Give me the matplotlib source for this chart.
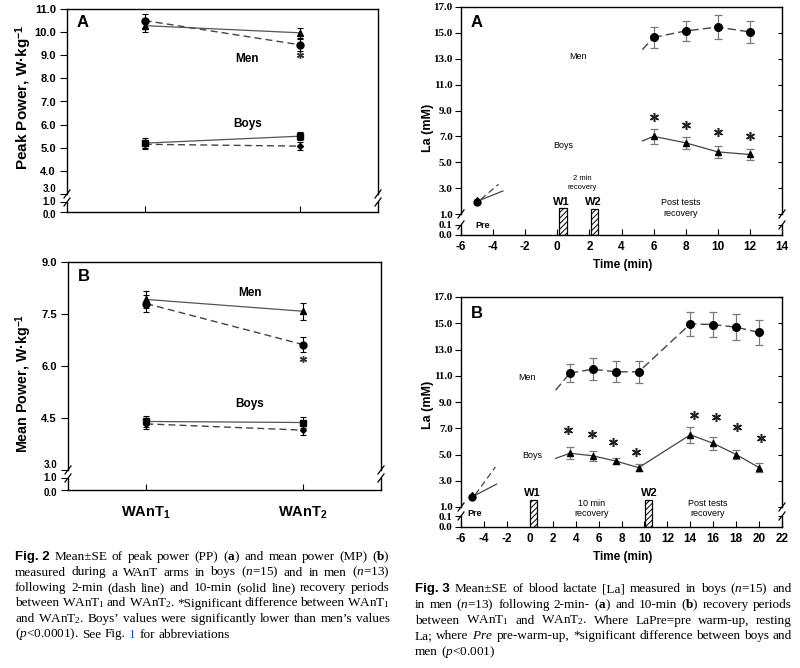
import numpy as np
import matplotlib
matplotlib.use('Agg')
import matplotlib.pyplot as plt
from matplotlib.lines import Line2D
from matplotlib.transforms import IdentityTransform

plt.rcParams['font.family'] = ['Liberation Sans', 'DejaVu Sans']
plt.rcParams['mathtext.fontset'] = 'custom'
plt.rcParams['mathtext.rm'] = 'Liberation Serif'
plt.rcParams['mathtext.it'] = 'Liberation Serif:italic'
plt.rcParams['mathtext.bf'] = 'Liberation Serif:bold'
plt.rcParams['mathtext.sf'] = 'Liberation Sans:bold'
plt.rcParams['hatch.linewidth'] = 0.7

# ---- Fig. 2 data (peak / mean power, W/kg) ----
want_x = [1, 2]
want_labels = ['WAnT$_\\mathsf{1}$', 'WAnT$_\\mathsf{2}$']
pp_men_2min = [10.5, 9.45]
pp_men_2min_se = [0.3, 0.25]
pp_men_10min = [10.28, 9.97]
pp_men_10min_se = [0.28, 0.22]
pp_boys_2min = [5.15, 5.07]
pp_boys_2min_se = [0.2, 0.18]
pp_boys_10min = [5.2, 5.5]
pp_boys_10min_se = [0.2, 0.18]
pp_star = [2, 9.0]

mp_men_2min = [7.8, 6.62]
mp_men_2min_se = [0.25, 0.23]
mp_men_10min = [7.92, 7.58]
mp_men_10min_se = [0.25, 0.25]
mp_boys_2min = [4.33, 4.15]
mp_boys_2min_se = [0.15, 0.13]
mp_boys_10min = [4.4, 4.37]
mp_boys_10min_se = [0.15, 0.15]
mp_star = [2, 6.2]

# ---- Fig. 3 data (blood lactate, mM) ----
pre_x = -5
pre_a = 1.95
pre_b = 1.75
t_a = [6, 8, 10, 12]
la_men_a = [14.65, 15.15, 15.45, 15.07]
la_men_a_se = [0.8, 0.8, 0.9, 0.88]
la_boys_a = [7.0, 6.5, 5.8, 5.6]
la_boys_a_se = [0.6, 0.48, 0.45, 0.42]
star_a_y = [8.47, 7.87, 7.36, 7.03]
lead_a_x = 5.3
lead_a_men = 13.7
lead_a_boys = 6.65
pre_a_dash_end = [-3.66, 3.3]
pre_a_solid_end = [-3.39, 2.78]
wbars_a_x = [0.36, 2.34]
wbars_a_h = [1.45, 1.4]

t_b = [3.5, 5.5, 7.5, 9.5, 14, 16, 18, 20]
la_men_b = [11.2, 11.5, 11.3, 11.3, 14.95, 14.9, 14.7, 14.3]
la_men_b_se = [0.7, 0.82, 0.8, 0.82, 0.9, 0.95, 1.0, 0.98]
la_boys_b = [5.1, 4.9, 4.5, 4.0, 6.5, 5.85, 5.0, 4.0]
la_boys_b_se = [0.45, 0.4, 0.25, 0.28, 0.6, 0.5, 0.33, 0.33]
star_b_x = [3.3, 5.4, 7.3, 9.3, 14.3, 16.2, 18.1, 20.2]
star_b_y = [6.85, 6.58, 5.95, 5.2, 8.0, 7.83, 7.1, 6.27]
lead_b_x = 2.25
lead_b_men = 9.9
lead_b_boys = 4.7
pre_b_dash_end = [-3.0, 4.05]
pre_b_solid_end = [-2.9, 2.74]
wbars_b_x = [0.35, 10.35]
wbars_b_h = [1.5, 1.5]

W, H = 800, 668
fig = plt.figure(figsize=(8, 6.68), dpi=100)


def px_axes(left, top, right, bottom):
    return fig.add_axes([left / W, 1 - bottom / H, (right - left) / W, (bottom - top) / H])


def broken_scale(ax, vals, pos):
    def fwd(v):
        return np.interp(v, vals, pos)

    def inv(p):
        return np.interp(p, pos, vals)
    ax.set_yscale('function', functions=(fwd, inv))
    ax.set_ylim(vals[0], vals[-1])
    return fwd, inv


def draw_frame(ax, lo, hi):
    # left / right spines with a break between lo and hi
    ax.spines['left'].set_visible(False)
    ax.spines['right'].set_visible(False)
    ymin, ymax = ax.get_ylim()
    tr = ax.get_yaxis_transform()
    for x in (0, 1):
        ax.plot([x, x], [ymin, lo], transform=tr, color='k', lw=1, clip_on=False)
        ax.plot([x, x], [hi, ymax], transform=tr, color='k', lw=1, clip_on=False)
        for v in (lo, hi):
            px, py = tr.transform((x, v))
            fig.add_artist(Line2D([px - 3, px + 3], [py - 4, py + 4],
                                  transform=IdentityTransform(), color='k', lw=0.9))


# ================= Fig. 2 =================
def fig2_panel(ax, men2, men2_se, men10, men10_se, boys2, boys2_se, boys10, boys10_se,
               star, yvals, ypos, yticks, men_y, boys_y, letter):
    broken_scale(ax, yvals, ypos)
    ax.set_xlim(0.5, 2.5)
    eb = dict(ecolor='black', elinewidth=0.8, capsize=2.5, capthick=0.8,
              mfc='black', mec='black', zorder=3)
    ax.errorbar(want_x, men10, yerr=men10_se, color='#555555', lw=0.9, ls='-',
                marker='^', ms=5, **eb)
    ax.errorbar(want_x, men2, yerr=men2_se, color='#444444', lw=1.0, ls=(0, (5, 3)),
                marker='o', ms=5, **eb)
    ax.errorbar(want_x, boys10, yerr=boys10_se, color='#555555', lw=0.9, ls='-',
                marker='s', ms=5, **eb)
    ax.errorbar(want_x, boys2, yerr=boys2_se, color='#444444', lw=1.0, ls=(0, (5, 3)),
                marker='D', ms=3, **eb)
    ax.plot([star[0]], [star[1]], ls='none', marker=(6, 2, 0), ms=5, color='#333333', mew=1)
    ax.text(1.66, men_y, 'Men', ha='center', va='center', fontsize=8.5, fontweight='bold')
    ax.text(1.66, boys_y, 'Boys', ha='center', va='center', fontsize=8.5, fontweight='bold')
    ax.text(0.05, 0.935, letter, transform=ax.transAxes, ha='center', va='center',
            fontsize=12, fontweight='bold')
    ax.set_yticks(yticks)
    # labels next to the axis break sit close together, spread them a little
    lo, hi = yvals[1], yvals[2]
    small = {yvals[0]: -2.5, lo: 0, hi: 3.5}
    ax.set_yticklabels(['' if v in small else f'{v:.1f}' for v in yticks],
                       fontweight='bold')
    for v, dy in small.items():
        ax.annotate(f'{v:.1f}', xy=(0, v), xycoords=ax.get_yaxis_transform(),
                    xytext=(-8, dy), textcoords='offset points', ha='right',
                    va='center', fontsize=7, fontweight='bold', annotation_clip=False)
    ax.tick_params(axis='y', direction='out', length=5, width=0.8, pad=3, labelsize=8)
    ax.set_xticks(want_x)
    ax.tick_params(axis='x', direction='in', length=4, width=0.8)
    for s in ax.spines.values():
        s.set_linewidth(1)
    draw_frame(ax, lo, hi)


ax2a = px_axes(67, 9, 378, 212)
fig2_panel(ax2a, pp_men_2min, pp_men_2min_se, pp_men_10min, pp_men_10min_se,
           pp_boys_2min, pp_boys_2min_se, pp_boys_10min, pp_boys_10min_se,
           pp_star, [0, 1, 3, 11], [0, 10, 18, 203],
           [0, 1, 3, 4, 5, 6, 7, 8, 9, 10, 11], 8.83, 6.04, 'A')
ax2a.set_xticklabels(['', ''])

ax2b = px_axes(68, 262, 381, 490)
fig2_panel(ax2b, mp_men_2min, mp_men_2min_se, mp_men_10min, mp_men_10min_se,
           mp_boys_2min, mp_boys_2min_se, mp_boys_10min, mp_boys_10min_se,
           mp_star, [0, 1, 3, 9], [0, 12, 20, 228],
           [0, 1, 3, 4.5, 6, 7.5, 9], 8.1, 4.9, 'B')
ax2b.set_xticklabels(want_labels, fontsize=10.5, fontweight='bold')
ax2b.tick_params(axis='x', pad=11)

fig.text(24 / W, 1 - 97 / H, 'Peak Power, W·kg$^{\\mathsf{-1}}$', rotation=90,
         ha='center', va='center', fontsize=11, fontweight='bold')
fig.text(24 / W, 1 - 383 / H, 'Mean Power, W·kg$^{\\mathsf{-1}}$', rotation=90,
         ha='center', va='center', fontsize=10.3, fontweight='bold')


# ================= Fig. 3 =================
def fig3_panel(ax, xmax, yvals, ypos, t, men, men_se, boys, boys_se, star_x, star_y,
               pre, lead_x, lead_men, lead_boys, dash_end, solid_end, bars_x, bars_h, bar_w):
    fwd, inv = broken_scale(ax, yvals, ypos)
    ax.set_xlim(-6, xmax)
    eb = dict(ecolor='#7a7a7a', elinewidth=0.9, capsize=3, capthick=0.9,
              mfc='black', mec='black', zorder=3)
    ax.errorbar(t, men, yerr=men_se, color='#444444', lw=1.0, ls=(0, (6, 3)),
                marker='o', ms=5.5, **eb)
    ax.errorbar(t, boys, yerr=boys_se, color='#444444', lw=0.9, ls='-',
                marker='^', ms=5, **eb)
    ax.plot([lead_x, t[0]], [lead_men, men[0]], color='#444444', lw=1.0, ls=(0, (6, 3)))
    ax.plot([lead_x, t[0]], [lead_boys, boys[0]], color='#444444', lw=0.9, ls='-')
    ax.plot([pre_x + 0.25, dash_end[0]], [pre + 0.2, dash_end[1]], color='#444444',
            lw=0.9, ls=(0, (5, 3)))
    ax.plot([pre_x + 0.25, solid_end[0]], [pre + 0.15, solid_end[1]], color='#444444', lw=0.9)
    ax.plot([pre_x], [pre], ls='none', marker='o', ms=5, color='black', zorder=4)
    ax.plot([pre_x], [pre + 0.15], ls='none', marker='^', ms=4.5, color='black', zorder=4)
    ax.plot(star_x, star_y, ls='none', marker=(6, 2, 0), ms=6.5, color='#222222', mew=1.1)
    ax.bar(bars_x, bars_h, width=bar_w, bottom=0, color='white', edgecolor='black',
           hatch='//////', lw=0.9, zorder=2)
    ax.text(0.05, 0.93, 'A' if xmax == 14 else 'B', transform=ax.transAxes,
            ha='center', va='center', fontsize=12, fontweight='bold')
    yt = [0, 0.1, 1] + list(range(3, 18, 2))
    ax.set_yticks(yt)
    ax.set_yticklabels([f'{v:.1f}' for v in yt], family='Liberation Serif',
                       fontweight='bold', fontsize=8)
    ax.tick_params(axis='y', direction='out', length=4, width=0.8, pad=2)
    xt = list(range(-6, xmax + 1, 2))
    ax.set_xticks(xt)
    ax.set_xticklabels([str(v) for v in xt], fontweight='bold', fontsize=8.5)
    ax.tick_params(axis='x', direction='in', length=4, width=0.8, pad=4)
    axr = ax.twinx()
    axr.set_yscale('function', functions=(fwd, inv))
    axr.set_ylim(ax.get_ylim())
    axr.set_yticks(yt)
    axr.tick_params(axis='y', direction='in', length=3, width=0.8, labelright=False)
    for s in axr.spines.values():
        s.set_visible(False)
    for s in ax.spines.values():
        s.set_linewidth(1)
    draw_frame(ax, yvals[1], yvals[2])


ax3a = px_axes(461, 7, 782, 235)
fig3_panel(ax3a, 14, [0, 0.1, 1, 17], [0, 10, 21, 228], t_a, la_men_a, la_men_a_se,
           la_boys_a, la_boys_a_se, t_a, star_a_y, pre_a, lead_a_x, lead_a_men,
           lead_a_boys, pre_a_dash_end, pre_a_solid_end, wbars_a_x, wbars_a_h, 0.45)
ax3a.text(1.27, 13.2, 'Men', ha='center', va='center', fontsize=6.5)
ax3a.text(0.39, 6.28, 'Boys', ha='center', va='center', fontsize=6.5)
ax3a.text(1.58, 3.76, '2 min', ha='center', va='center', fontsize=5.5)
ax3a.text(1.58, 3.04, 'recovery', ha='center', va='center', fontsize=5.5)
ax3a.text(0.22, 1.96, 'W1', ha='center', va='center', fontsize=8, fontweight='bold')
ax3a.text(2.25, 1.96, 'W2', ha='center', va='center', fontsize=8, fontweight='bold')
ax3a.text(7.67, 1.88, 'Post tests', ha='center', va='center', fontsize=6.5)
ax3a.text(7.67, 1.06, 'recovery', ha='center', va='center', fontsize=6.5)
ax3a.text(-4.64, 0.1, 'Pre', ha='center', va='center', fontsize=6.5, fontweight='bold')

ax3b = px_axes(461, 297, 782, 527)
fig3_panel(ax3b, 22, [0, 0.1, 1, 17], [0, 11, 20, 230], t_b, la_men_b, la_men_b_se,
           la_boys_b, la_boys_b_se, star_b_x, star_b_y, pre_b, lead_b_x, lead_b_men,
           lead_b_boys, pre_b_dash_end, pre_b_solid_end, wbars_b_x, wbars_b_h, 0.6)
ax3b.text(-0.2, 10.9, 'Men', ha='center', va='center', fontsize=6.5)
ax3b.text(0.23, 4.9, 'Boys', ha='center', va='center', fontsize=6.5)
ax3b.text(0.23, 2.03, 'W1', ha='center', va='center', fontsize=8, fontweight='bold')
ax3b.text(10.46, 2.03, 'W2', ha='center', va='center', fontsize=8, fontweight='bold')
ax3b.text(5.4, 1.25, '10 min', ha='center', va='center', fontsize=6.5)
ax3b.text(5.4, 0.36, 'recovery', ha='center', va='center', fontsize=6.5)
ax3b.text(15.5, 1.25, 'Post tests', ha='center', va='center', fontsize=6.5)
ax3b.text(15.5, 0.36, 'recovery', ha='center', va='center', fontsize=6.5)
ax3b.text(-4.83, 0.36, 'Pre', ha='center', va='center', fontsize=6.5, fontweight='bold')

for yc in (128, 405):
    fig.text(428 / W, 1 - yc / H, 'La (mM)', rotation=90, ha='center', va='center',
             fontsize=9, fontweight='bold')
for yc in (265, 557):
    fig.text(623 / W, 1 - yc / H, 'Time (min)', ha='center', va='center',
             fontsize=8.5, fontweight='bold')

# ================= captions =================
cap_kw = dict(family='Liberation Serif', fontsize=9.5)
fig_kw = dict(family='Liberation Sans', fontsize=9.5, fontweight='bold')
renderer = fig.canvas.get_renderer()


def words(s, **kw):
    k = dict(cap_kw)
    k.update(kw)
    return [(w, k) for w in s.split(' ')]


def caption_line(tokens, x0, x1, ybase, justify=True):
    arts = []
    total = 0
    for txt, kw in tokens:
        t = fig.text(0, 0, txt, transform=IdentityTransform(), ha='left', va='baseline', **kw)
        w = t.get_window_extent(renderer).width
        arts.append((t, w))
        total += w
    gap = (x1 - x0 - total) / (len(arts) - 1) if justify else 3.4
    gap = max(gap, 1.5)
    x = x0
    for t, w in arts:
        t.set_position((x, H - ybase))
        x += w + gap


cap2 = [
    [('Fig. 2', fig_kw)] + words('Mean±SE of peak power (PP) ($\\mathbf{a}$) and mean power (MP) ($\\mathbf{b}$)'),
    words('measured during a WAnT arms in boys ($\\mathit{n}$=15) and in men ($\\mathit{n}$=13)'),
    words('following 2-min (dash line) and 10-min (solid line) recovery periods'),
    words('between WAnT$_1$ and WAnT$_2$. *Significant difference between WAnT$_1$'),
    words("and WAnT$_2$. Boys’ values were significantly lower than men’s values"),
    words('($\\mathit{p}$<0.0001). See Fig.') + words('1', color='#1f4fbf') + words('for abbreviations'),
]
for i, line in enumerate(cap2):
    caption_line(line, 15, 390, 560 + i * 15.5, justify=i < len(cap2) - 1)

cap3 = [
    [('Fig. 3', fig_kw)] + words('Mean±SE of blood lactate [La] measured in boys ($\\mathit{n}$=15) and'),
    words('in men ($\\mathit{n}$=13) following 2-min- ($\\mathbf{a}$) and 10-min ($\\mathbf{b}$) recovery periods'),
    words('between WAnT$_1$ and WAnT$_2$. Where LaPre=pre warm-up, resting'),
    words('La; where $\\mathit{Pre}$ pre-warm-up, *significant difference between boys and'),
    words('men ($\\mathit{p}$<0.001)'),
]
for i, line in enumerate(cap3):
    caption_line(line, 415, 792, 592 + i * 15.8, justify=i < len(cap3) - 1)

fig.savefig('out.png', dpi=100)
